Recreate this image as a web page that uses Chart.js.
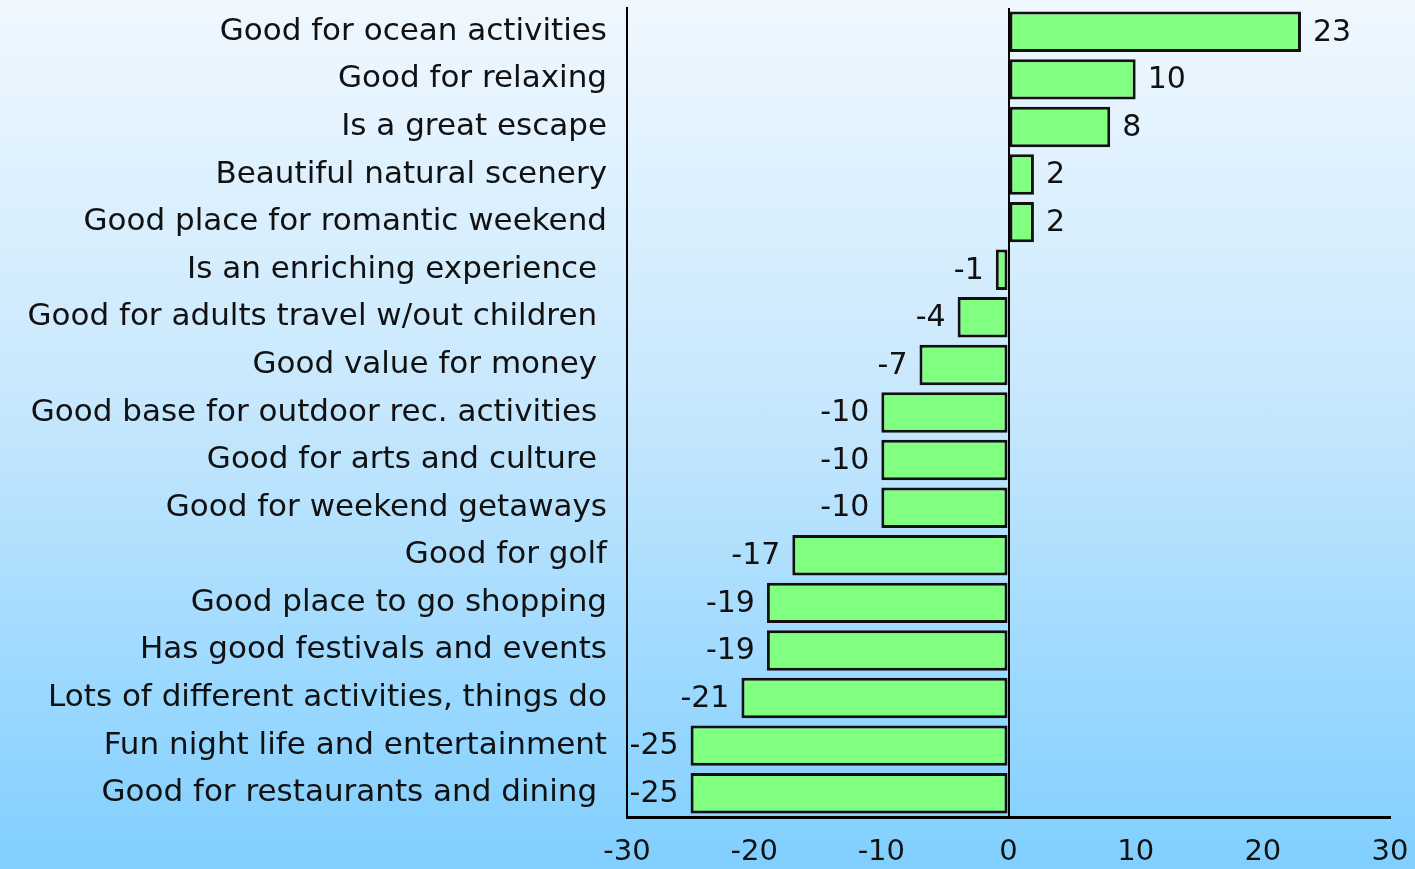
<!DOCTYPE html>
<html>
<head>
<meta charset="utf-8">
<script src="https://cdn.jsdelivr.net/npm/chart.js@4/dist/chart.umd.min.js"></script>
<style>
  html, body { margin: 0; padding: 0; }
  body {
    width: 1415px; height: 869px; overflow: hidden;
    background: linear-gradient(to bottom, #f0f8ff 0%, #c8e8fd 45%, #80cfff 100%);
  }
  #wrap { position: relative; width: 1415px; height: 869px; }
</style>
</head>
<body>
<div id="wrap"><canvas id="chart"></canvas></div>
<script>
    // ---------- Datos ----------
    const categories = [
        'Good for ocean activities',
        'Good for relaxing',
        'Is a great escape',
        'Beautiful natural scenery',
        'Good place for romantic weekend',
        'Is an enriching experience ',
        'Good for adults travel w/out children ',
        'Good value for money ',
        'Good base for outdoor rec. activities ',
        'Good for arts and culture ',
        'Good for weekend getaways',
        'Good for golf',
        'Good place to go shopping',
        'Has good festivals and events',
        'Lots of different activities, things do',
        'Fun night life and entertainment',
        'Good for restaurants and dining '
    ];
    const values = [23, 10, 8, 2, 2, -1, -4, -7, -10, -10, -10, -17, -19, -19, -21, -25, -25];
    const xTicks = [-30, -20, -10, 0, 10, 20, 30];

    const FONT = "'DejaVu Sans', sans-serif";

    // etiquetas de valor al lado de cada barra
    const valueLabels = {
        id: 'valueLabels',
        afterDatasetsDraw(chart) {
            const { ctx } = chart;
            const meta = chart.getDatasetMeta(0);
            ctx.save();
            ctx.font = `30px ${FONT}`;
            ctx.fillStyle = '#111';
            ctx.textBaseline = 'middle';
            meta.data.forEach((bar, i) => {
                const v = values[i];
                if (v >= 0) {
                    ctx.textAlign = 'left';
                    ctx.fillText(String(v), bar.x + 12, bar.y + 1);
                } else {
                    ctx.textAlign = 'right';
                    ctx.fillText(String(v), bar.x - 12, bar.y + 1);
                }
            });
            ctx.restore();
        }
    };

    const ctx = document.getElementById('chart');
    new Chart(ctx, {
        type: 'bar',
        data: {
            labels: categories,
            datasets: [{
                data: values,
                backgroundColor: '#80ff80',
                borderColor: '#111',
                borderWidth: 3,
                borderSkipped: false,
                barPercentage: 0.85,
                categoryPercentage: 1
            }]
        },
        options: {
            indexAxis: 'y',
            responsive: true, maintainAspectRatio: false,
            animation: false,
            layout: { padding: { top: 8, right: 25, bottom: 0, left: 0 } },
            plugins: { legend: { display: false }, tooltip: { enabled: false } },
            scales: {
                x: {
                    min: -30, max: 30,
                    afterBuildTicks: (s) => { s.ticks = xTicks.map(v => ({ value: v })); },
                    afterFit: (s) => { s.height = 52; s.paddingLeft = 0; s.paddingRight = 0; },
                    border: { display: true, color: '#000', width: 3 },
                    grid: {
                        drawTicks: false,
                        color: (c) => c.tick && c.tick.value === 0 ? '#000' : 'rgba(0,0,0,0)',
                        lineWidth: 2
                    },
                    ticks: { color: '#111', font: { family: FONT, size: 29 }, padding: 18, maxRotation: 0 }
                },
                y: {
                    afterFit: (s) => { s.width = 627; s.paddingTop = 0; s.paddingBottom = 0; },
                    border: { display: true, color: '#000', width: 2 },
                    grid: { display: false, drawTicks: false },
                    ticks: { color: '#111', font: { family: FONT, size: 31 }, padding: 20, autoSkip: false }
                }
            }
        },
        plugins: [valueLabels]
    });
</script>
</body>
</html>
